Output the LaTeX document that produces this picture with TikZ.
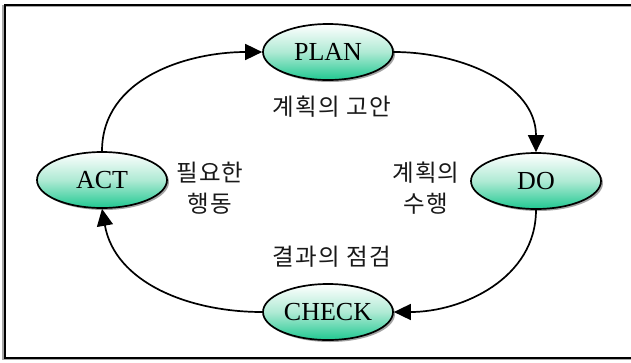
\documentclass[tikz,border=0pt]{standalone}
\usepackage{fontspec}
\setmainfont{Liberation Serif}
\newfontfamily\krfont[LetterSpace=5]{Noto Sans CJK KR}
\usetikzlibrary{shapes.geometric,shadows,arrows.meta}
\definecolor{teal1}{RGB}{32,200,145}
\definecolor{mint1}{RGB}{175,234,212}
\tikzset{
  phase/.style={ellipse, draw=black, line width=1.7pt, minimum width=130pt, minimum height=56pt, inner sep=0pt,
    top color=white, bottom color=teal1, middle color=mint1,
    drop shadow={shadow xshift=2pt, shadow yshift=-2pt, fill=black!45, opacity=0.8},
    font=\fontsize{26}{26}\selectfont},
  cyc/.style={line width=1.7pt, -{Triangle[length=17pt,width=16pt]}},
  krlabel/.style={font=\krfont\fontsize{23.5}{31}\selectfont, align=center, text=black!90, inner sep=0pt}
}
\begin{document}
\begin{tikzpicture}[x=1pt,y=-1pt]
\useasboundingbox (0,0) rectangle (631,362);
\fill[white] (0,0) rectangle (631,362);
\draw[black!35, line width=1.5pt] (3,6) rectangle (650,359.5);
\draw[black, line width=2.2pt] (5,5) rectangle (650,358);
\node[phase] (plan) at (328,52) {PLAN};
\node[phase] (act) at (102,180) {ACT};
\node[phase] (do) at (536,181) {DO};
\node[phase] (check) at (328,312) {CHECK};
\node[krlabel] (l1) at (332,107) {계획의 고안};
\node[krlabel] (l2) at (210,188) {필요한\\행동};
\node[krlabel] (l3) at (426,188) {계획의\\수행};
\node[krlabel] (l4) at (332,257) {결과의 점검};
\draw[cyc] (act.north) to[out=90,in=180] (plan.west);
\draw[cyc] (plan.east) to[out=0,in=90] (do.north);
\draw[cyc] (do.south) to[out=-90,in=0] (check.east);
\draw[cyc] (check.west) to[out=180,in=-80] (act.south);
\end{tikzpicture}
\end{document}
